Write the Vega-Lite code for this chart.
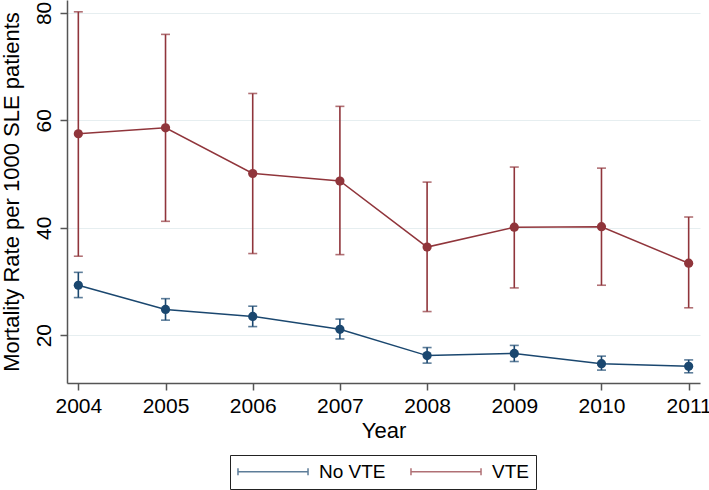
{
  "$schema": "https://vega.github.io/schema/vega-lite/v6.json",
  "autosize": {"type": "none"},
  "width": 633,
  "height": 383,
  "padding": {"left": 67, "top": 0, "right": 9, "bottom": 107},
  "background": "white",
  "config": {
    "view": {"stroke": null},
    "font": "Liberation Sans",
    "axis": {"labelFont": "Liberation Sans", "titleFont": "Liberation Sans", "labelColor": "black", "titleColor": "black", "titleFontWeight": "normal", "domainColor": "#555", "domainWidth": 1.5, "tickColor": "#555", "tickWidth": 1.5, "tickSize": 7, "gridColor": "#e6eef0", "gridWidth": 1.2}
  },
  "data": {"values": [
    {"group": "No VTE", "year": 2004, "rate": 29.3, "lo": 27.0, "hi": 31.7},
    {"group": "No VTE", "year": 2005, "rate": 24.8, "lo": 22.8, "hi": 26.8},
    {"group": "No VTE", "year": 2006, "rate": 23.5, "lo": 21.6, "hi": 25.4},
    {"group": "No VTE", "year": 2007, "rate": 21.1, "lo": 19.3, "hi": 23.0},
    {"group": "No VTE", "year": 2008, "rate": 16.2, "lo": 14.8, "hi": 17.7},
    {"group": "No VTE", "year": 2009, "rate": 16.6, "lo": 15.1, "hi": 18.1},
    {"group": "No VTE", "year": 2010, "rate": 14.7, "lo": 13.5, "hi": 16.1},
    {"group": "No VTE", "year": 2011, "rate": 14.2, "lo": 13.0, "hi": 15.4},
    {"group": "VTE", "year": 2004, "rate": 57.5, "lo": 34.7, "hi": 80.2},
    {"group": "VTE", "year": 2005, "rate": 58.6, "lo": 41.2, "hi": 76.0},
    {"group": "VTE", "year": 2006, "rate": 50.1, "lo": 35.2, "hi": 65.0},
    {"group": "VTE", "year": 2007, "rate": 48.7, "lo": 35.0, "hi": 62.6},
    {"group": "VTE", "year": 2008, "rate": 36.4, "lo": 24.4, "hi": 48.5},
    {"group": "VTE", "year": 2009, "rate": 40.1, "lo": 28.8, "hi": 51.3},
    {"group": "VTE", "year": 2010, "rate": 40.2, "lo": 29.3, "hi": 51.1},
    {"group": "VTE", "year": 2011, "rate": 33.4, "lo": 25.1, "hi": 42.0}
  ]},
  "encoding": {
    "x": {"field": "year", "type": "quantitative",
      "scale": {"domain": [2003.87, 2011.13], "nice": false, "zero": false},
      "axis": {"values": [2004, 2005, 2006, 2007, 2008, 2009, 2010, 2011], "format": "d", "grid": false, "labelFontSize": 21, "labelPadding": 5, "title": "Year", "titleFontSize": 22, "titlePadding": 4, "labelFlush": false, "labelOverlap": false}},
    "color": {"field": "group", "type": "nominal",
      "scale": {"domain": ["No VTE", "VTE"], "range": ["#1a476f", "#90353b"]},
      "legend": {"title": null, "orient": "none", "legendX": 163, "legendY": 455, "direction": "horizontal", "strokeColor": "#222", "padding": 7, "columnPadding": 21, "labelOffset": 36.5, "symbolOffset": 26.5, "labelFontSize": 19, "labelFont": "Liberation Sans", "labelColor": "black", "symbolType": "M-4.12,0H4.12M-4.12,-0.41V0.41M4.12,-0.41V0.41", "symbolSize": 289, "symbolStrokeWidth": 1.5, "symbolFillColor": "transparent"}}
  },
  "layer": [
    {"mark": {"type": "rule", "strokeWidth": 1.6},
     "encoding": {
       "y": {"field": "lo", "type": "quantitative",
         "scale": {"domain": [11.1, 82.4], "nice": false, "zero": false},
         "axis": {"values": [20, 40, 60, 80], "grid": true, "labelAngle": -90, "labelFontSize": 21, "labelPadding": 6, "title": "Mortality Rate per 1000 SLE patients", "titleFontSize": 22, "titlePadding": 10}},
       "y2": {"field": "hi"}}},
    {"mark": {"type": "tick", "orient": "horizontal", "size": 9, "thickness": 1.6},
     "encoding": {"y": {"field": "lo", "type": "quantitative"}}},
    {"mark": {"type": "tick", "orient": "horizontal", "size": 9, "thickness": 1.6},
     "encoding": {"y": {"field": "hi", "type": "quantitative"}}},
    {"mark": {"type": "line", "strokeWidth": 1.5},
     "encoding": {"y": {"field": "rate", "type": "quantitative"}}},
    {"mark": {"type": "point", "filled": true, "opacity": 1, "size": 85},
     "encoding": {"y": {"field": "rate", "type": "quantitative"}}}
  ]
}
